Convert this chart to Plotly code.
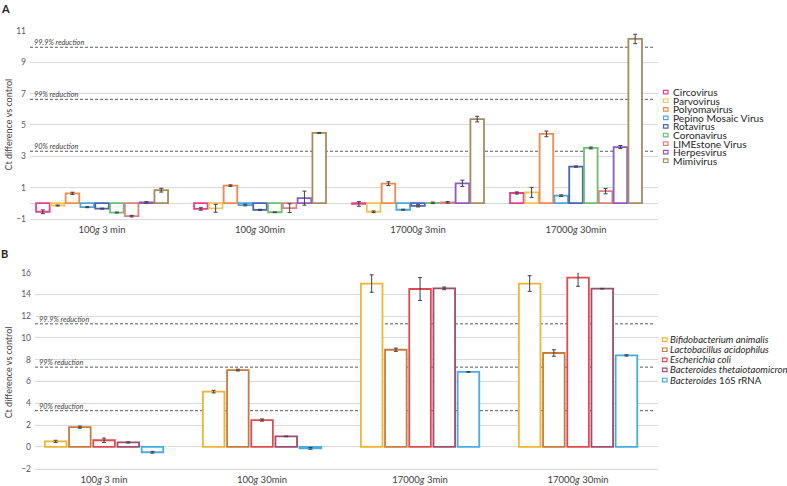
import plotly.graph_objects as go

W, H = 787, 486

def px_x(x):
    return x / W

def px_y(y):
    return 1 - y / H

# ---------------- DATA ----------------
categories = ["100<i>g</i> 3 min", "100<i>g</i> 30min", "17000<i>g</i> 3min", "17000<i>g</i> 30min"]

# Panel A (viruses)
virus_names = ["Circovirus", "Parvovirus", "Polyomavirus", "Pepino Mosaic Virus", "Rotavirus",
               "Coronavirus", "LIMEstone Virus", "Herpesvirus", "Mimivirus"]
circovirus = [-0.55, -0.37, -0.05, 0.65]
circovirus_err = [0.12, 0.08, 0.15, 0.07]
parvovirus = [-0.15, -0.33, -0.55, 0.69]
parvovirus_err = [0.03, 0.25, 0.05, 0.32]
polyomavirus = [0.63, 1.12, 1.25, 4.43]
polyomavirus_err = [0.07, 0.05, 0.12, 0.18]
pepino = [-0.25, -0.12, -0.42, 0.48]
pepino_err = [0.04, 0.05, 0.03, 0.05]
rotavirus = [-0.35, -0.43, -0.17, 2.34]
rotavirus_err = [0.03, 0.04, 0.07, 0.04]
coronavirus = [-0.60, -0.58, 0.02, 3.53]
coronavirus_err = [0.03, 0.02, 0.05, 0.06]
limestone = [-0.83, -0.32, 0.05, 0.77]
limestone_err = [0.05, 0.28, 0.05, 0.17]
herpesvirus = [0.05, 0.32, 1.27, 3.59]
herpesvirus_err = [0.05, 0.45, 0.20, 0.10]
mimivirus = [0.83, 4.49, 5.38, 10.50]
mimivirus_err = [0.12, 0.03, 0.18, 0.30]

virus_values = [circovirus, parvovirus, polyomavirus, pepino, rotavirus,
                coronavirus, limestone, herpesvirus, mimivirus]
virus_errors = [circovirus_err, parvovirus_err, polyomavirus_err, pepino_err, rotavirus_err,
                coronavirus_err, limestone_err, herpesvirus_err, mimivirus_err]
virus_colors = ["#E8418C", "#F2C45A", "#F08A4B", "#4FA4DE", "#4B62B5",
                "#6CC06E", "#D98383", "#8A5CC2", "#A88A5E"]

# Panel B (bacteria)
bact_names = ["<i>Bifidobacterium animalis</i>", "<i>Lactobacillus acidophilus</i>",
              "<i>Escherichia coli</i>", "<i>Bacteroides thetaiotaomicron</i>",
              "<i>Bacteroides</i> 16S rRNA"]
bifido = [0.50, 5.07, 15.00, 15.00]
bifido_err = [0.10, 0.12, 0.80, 0.72]
lacto = [1.80, 7.05, 8.92, 8.62]
lacto_err = [0.10, 0.08, 0.15, 0.30]
ecoli = [0.60, 2.46, 14.50, 15.55]
ecoli_err = [0.20, 0.10, 1.05, 0.80]
btheta = [0.40, 0.96, 14.56, 14.53]
btheta_err = [0.05, 0.03, 0.12, 0.03]
rrna16s = [-0.50, -0.15, 6.88, 8.40]
rrna16s_err = [0.08, 0.08, 0.03, 0.06]

bact_values = [bifido, lacto, ecoli, btheta, rrna16s]
bact_errors = [bifido_err, lacto_err, ecoli_err, btheta_err, rrna16s_err]
bact_colors = ["#EDB530", "#C87B3E", "#E04B4F", "#9A4D6C", "#4AAAE2"]

reduction_labels = ["90% reduction", "99% reduction", "99.9% reduction"]
reduction_A = [3.32, 6.64, 9.97]
reduction_B = [3.32, 7.32, 11.30]

# ---------------- FIGURE ----------------
FONT = "Lato"
fig = go.Figure()

UNIT = 158.0  # px per category
def add_group(values, errors, colors, names, xa, ya, pitch_px, width_px):
    n = len(values)
    pitch = pitch_px / UNIT
    width = width_px / UNIT
    for i, (v, e, c, nm) in enumerate(zip(values, errors, colors, names)):
        off = (i - (n - 1) / 2) * pitch - width / 2
        fig.add_trace(go.Bar(
            x=categories, y=v, name=nm, xaxis=xa, yaxis=ya,
            width=[width] * len(v), offset=[off] * len(v),
            marker=dict(color="white", line=dict(color=c, width=1.8)),
            error_y=dict(type="data", array=e, visible=True, color="#404040",
                         thickness=1, width=2),
            showlegend=False,
        ))

add_group(virus_values, virus_errors, virus_colors, virus_names, "x", "y", 14.8, 13.6)
add_group(bact_values, bact_errors, bact_colors, bact_names, "x2", "y2", 24.2, 21.6)

axis_common = dict(showgrid=True, gridcolor="#D9D9D9", gridwidth=1,
                   tickfont=dict(family=FONT, size=8.5, color="#595959"),
                   zeroline=True, zerolinecolor="#D9D9D9", zerolinewidth=1,
                   ticks="", showline=False, ticklabelstandoff=3)
xcommon = dict(type="category", showgrid=False, zeroline=False, ticks="",
               tickfont=dict(family=FONT, size=9.5, color="#404040"),
               showline=True, linecolor="#D9D9D9", linewidth=1, ticklabelstandoff=2)

fig.update_layout(
    width=W, height=H, margin=dict(l=0, r=0, t=0, b=0),
    paper_bgcolor="white", plot_bgcolor="white",
    barmode="overlay", showlegend=False,
    xaxis=dict(domain=[px_x(30), px_x(658)], range=[-0.456, 3.519], anchor="y", **xcommon),
    yaxis=dict(domain=[px_y(218.3), px_y(26.7)], range=[-1, 11], tick0=-1, dtick=2,
               anchor="x", **axis_common),
    xaxis2=dict(domain=[px_x(35), px_x(658)], range=[-0.437, 3.506], anchor="y2", **xcommon),
    yaxis2=dict(domain=[px_y(473.3), px_y(273.3)], range=[-2, 16], tick0=0, dtick=2,
                anchor="x2", **axis_common),
)

shapes = []
annotations = []

# reduction lines
for xr, yr, vals, lx in [("x domain", "y", reduction_A, 0.003), ("x2 domain", "y2", reduction_B, 0.003)]:
    for lab, v in zip(reduction_labels, vals):
        shapes.append(dict(type="line", xref=xr, yref=yr, x0=0, x1=0.995, y0=v, y1=v,
                           line=dict(color="#595959", width=1, dash="3px,2px"), layer="below"))
        annotations.append(dict(xref=xr, yref=yr, x=lx, y=v, text="<i>" + lab + "</i>",
                                showarrow=False, xanchor="left", yanchor="bottom", yshift=-2,
                                font=dict(family=FONT, size=7.3, color="#404040")))

# legends
def add_legend(names, colors, x_sq, x_txt, y0, dy, size):
    for i, (nm, c) in enumerate(zip(names, colors)):
        yc = y0 + i * dy
        shapes.append(dict(type="rect", xref="paper", yref="paper",
                           x0=px_x(x_sq), x1=px_x(x_sq + 4.5), y0=px_y(yc + 1.8), y1=px_y(yc - 1.8),
                           line=dict(color=c, width=1.2), fillcolor="white"))
        annotations.append(dict(xref="paper", yref="paper", x=px_x(x_txt), y=px_y(yc),
                                text=nm, showarrow=False, xanchor="left", yanchor="middle",
                                borderpad=0,
                                font=dict(family=FONT, size=size, color="#262626")))

add_legend(virus_names, virus_colors, 663.5, 671.5, 89.0, 8.75, 10.2)
add_legend(bact_names, bact_colors, 662.5, 669.0, 341.7, 10.3, 9.6)

# panel letters and y titles
annotations.append(dict(xref="paper", yref="paper", x=px_x(0), y=px_y(4), text="<b>A</b>",
                        showarrow=False, xanchor="left", yanchor="middle", borderpad=0,
                        font=dict(family=FONT, size=11, color="#262626")))
annotations.append(dict(xref="paper", yref="paper", x=px_x(0), y=px_y(254), text="<b>B</b>",
                        showarrow=False, xanchor="left", yanchor="middle", borderpad=0,
                        font=dict(family=FONT, size=11, color="#262626")))
annotations.append(dict(xref="paper", yref="paper", x=px_x(8), y=px_y(122),
                        text="Ct difference vs control", textangle=-90, showarrow=False,
                        xanchor="center", yanchor="middle",
                        font=dict(family=FONT, size=9, color="#404040")))
annotations.append(dict(xref="paper", yref="paper", x=px_x(8), y=px_y(375),
                        text="Ct difference vs control", textangle=-90, showarrow=False,
                        xanchor="center", yanchor="middle",
                        font=dict(family=FONT, size=9, color="#404040")))

fig.update_layout(shapes=shapes, annotations=annotations)
fig.write_html("out.html", config={"displayModeBar": False},
               post_script="document.body.style.margin='0px';document.body.style.overflow='hidden';")
